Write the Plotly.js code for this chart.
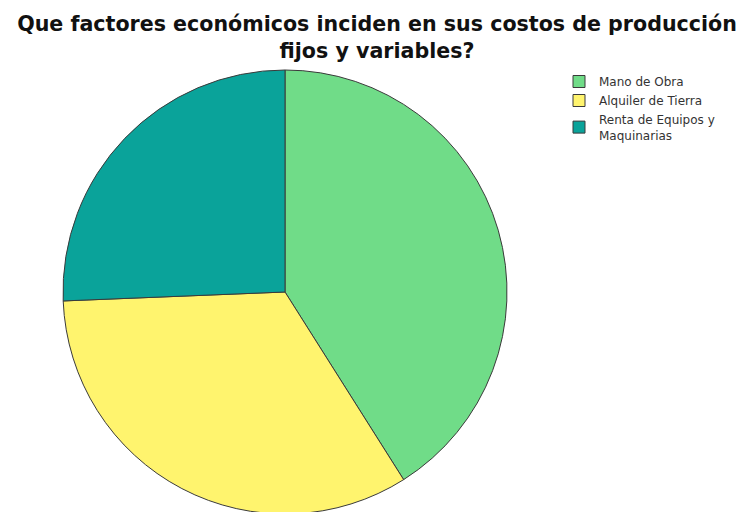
<!DOCTYPE html>
<html><head><meta charset="utf-8">
<script src="https://cdn.plot.ly/plotly-3.0.1.min.js"></script>
<style>html,body{margin:0;padding:0;overflow:hidden;background:#fff}</style>
</head><body>
<div id="chart" style="width:754px;height:516px"></div>
<script>
const categories = ["Mano de Obra", "Alquiler de Tierra", "Renta de Equipos y<br>Maquinarias"];
const values = [16, 13, 10];
const colors = ["#70DC88", "#FFF46E", "#0AA39A"];
const titleText = "Que factores económicos inciden en sus costos de producción<br>fijos y variables?";

const W = 754, H = 516;
const trace = {
  type: "pie",
  labels: categories,
  values: values,
  sort: false,
  direction: "clockwise",
  rotation: 0,
  textinfo: "none",
  hoverinfo: "label+percent",
  marker: {colors: colors, line: {color: "#3a3a3a", width: 1}},
  domain: {x: [63 / W, 507 / W], y: [2 / H, (H - 70) / H]}
};
const layout = {
  width: W, height: H,
  margin: {l: 0, r: 0, t: 0, b: 0},
  paper_bgcolor: "#fff",
  title: {
    text: "<b>" + titleText + "</b>",
    x: 377 / W, xanchor: "center", xref: "paper",
    y: (H - 31) / H, yanchor: "middle", yref: "container",
    font: {family: "DejaVu Sans, Liberation Sans, Arial, sans-serif", size: 20.6, color: "#111"}
  },
  showlegend: true,
  legend: {
    x: 559 / W, y: (H - 67) / H, xanchor: "left", yanchor: "top",
    font: {family: "DejaVu Sans, Arial, sans-serif", size: 12, color: "#333"},
    itemwidth: 30, tracegroupgap: 0, bgcolor: "rgba(0,0,0,0)"
  }
};
Plotly.newPlot("chart", [trace], layout, {displayModeBar: false, staticPlot: true});
</script>
</body></html>
